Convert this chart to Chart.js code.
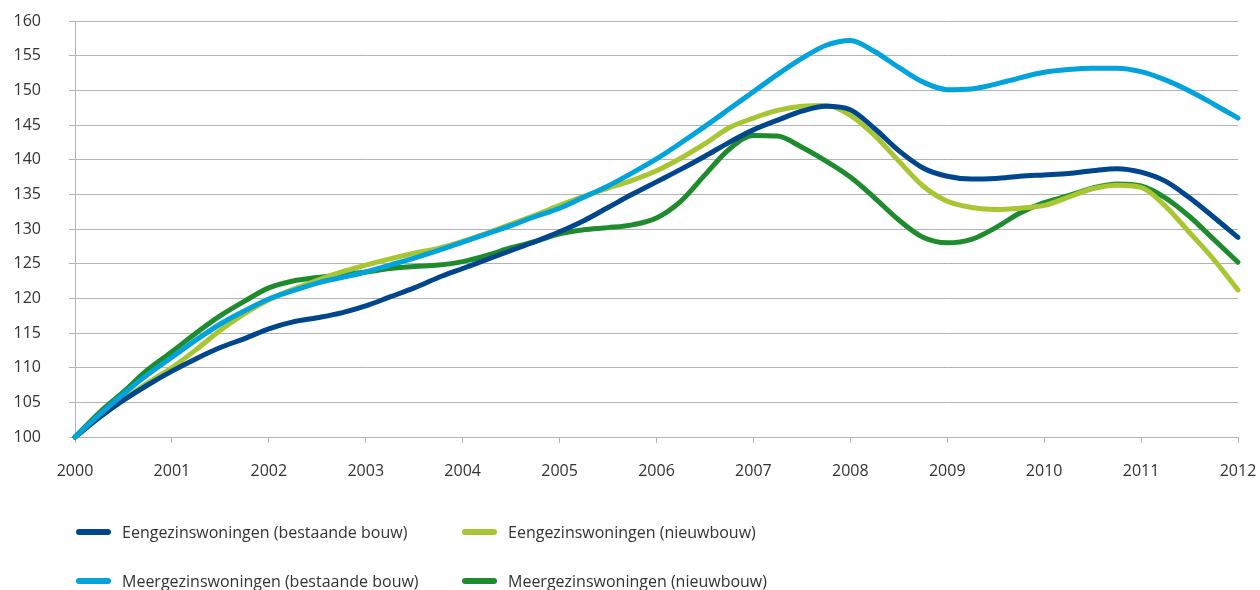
<!DOCTYPE html>
<html>
<head>
<meta charset="utf-8">
<script src="https://cdn.jsdelivr.net/npm/chart.js@4"></script>
<style>
  html, body { margin: 0; padding: 0; background: #fff; }
  body { width: 1260px; height: 590px; overflow: hidden; position: relative; font-family: "Open Sans", sans-serif; }
  #wrap { position: absolute; left: 0; top: 0; width: 1260px; height: 590px; }
  .legend { position: absolute; font-size: 16px; color: #333; white-space: nowrap; }
  .legend span.sw { position: absolute; left: 0; top: 9px; width: 35px; height: 6px; border-radius: 3px; }
  .legend span.tx { position: absolute; left: 46px; top: 0; line-height: 24px; }
</style>
</head>
<body>
<div id="wrap"><canvas id="chart" width="1260" height="590"></canvas></div>
<div id="legend"></div>
<script>
// Kwartalen (x-as)
const kwartalen = [
  2000, 2000.25, 2000.5, 2000.75, 2001, 2001.25, 2001.5, 2001.75,
  2002, 2002.25, 2002.5, 2002.75, 2003, 2003.25, 2003.5, 2003.75,
  2004, 2004.25, 2004.5, 2004.75, 2005, 2005.25, 2005.5, 2005.75,
  2006, 2006.25, 2006.5, 2006.75, 2007, 2007.25, 2007.5, 2007.75,
  2008, 2008.25, 2008.5, 2008.75, 2009, 2009.25, 2009.5, 2009.75,
  2010, 2010.25, 2010.5, 2010.75, 2011, 2011.25, 2011.5, 2011.75,
  2012
];

const eengezinsBestaand = [
  100, 102.8, 105.3, 107.5, 109.5, 111.3, 112.9, 114.2,
  115.6, 116.6, 117.2, 117.9, 118.9, 120.2, 121.5, 123,
  124.3, 125.6, 126.9, 128.2, 129.6, 131.2, 133.1, 135,
  136.8, 138.6, 140.5, 142.5, 144.3, 145.7, 147, 147.7,
  147.2, 144.5, 141.3, 138.8, 137.6, 137.2, 137.3, 137.6,
  137.8, 138, 138.4, 138.7, 138.2, 136.9, 134.5, 131.7,
  128.8
];

const eengezinsNieuw = [
  100, 102.8, 105.4, 107.8, 110, 112.6, 115.4, 117.8,
  119.8, 121.3, 122.6, 123.8, 124.8, 125.7, 126.5, 127.2,
  128.2, 129.4, 130.7, 132, 133.4, 134.7, 135.9, 137,
  138.4, 140.2, 142.3, 144.6, 146, 147.1, 147.7, 147.8,
  146.4, 143.5, 139.8, 136.2, 134, 133.1, 132.8, 133,
  133.4, 134.6, 135.8, 136.3, 136, 133.3, 129.5, 125.6,
  121.2
];

const meergezinsBestaand = [
  100, 103.2, 106.2, 109, 111.5, 114, 116.3, 118.2,
  119.9, 121.1, 122.2, 123, 123.8, 124.8, 125.8, 126.9,
  128.1, 129.3, 130.5, 131.8, 133, 134.6, 136.2, 138.1,
  140.1, 142.4, 144.8, 147.3, 149.8, 152.3, 154.6, 156.5,
  157.2, 155.6, 153.3, 151.2, 150.1, 150.2, 150.9, 151.8,
  152.6, 153, 153.2, 153.2, 152.7, 151.5, 149.9, 148,
  146
];

const meergezinsNieuw = [
  100, 103.5, 106.5, 109.7, 112.3, 115, 117.5, 119.6,
  121.5, 122.5, 123, 123.4, 123.8, 124.3, 124.6, 124.8,
  125.3, 126.2, 127.3, 128.2, 129.3, 129.9, 130.2, 130.6,
  131.6, 134, 137.8, 141.5, 143.5, 143.4, 141.8, 139.8,
  137.5, 134.5, 131.3, 128.8, 128, 128.5, 130.2, 132.3,
  133.8, 134.8, 135.9, 136.5, 136.2, 134.5, 131.8, 128.5,
  125.2
];

const reeksen = [
  { label: 'Eengezinswoningen (bestaande bouw)', data: eengezinsBestaand, kleur: '#00468c', x: 76, y: 520 },
  { label: 'Eengezinswoningen (nieuwbouw)', data: eengezinsNieuw, kleur: '#a7c631', x: 462, y: 520 },
  { label: 'Meergezinswoningen (bestaande bouw)', data: meergezinsBestaand, kleur: '#00a3dc', x: 76, y: 569 },
  { label: 'Meergezinswoningen (nieuwbouw)', data: meergezinsNieuw, kleur: '#1e8c2e', x: 462, y: 569 }
];

// Volgorde van tekenen: lichtblauw onder, donkerblauw boven
const tekenVolgorde = [2, 0, 1, 3];

const datasets = tekenVolgorde.map(i => {
  const r = reeksen[i];
  return {
    label: r.label,
    data: r.data.map((v, k) => ({ x: kwartalen[k], y: v })),
    borderColor: r.kleur,
    backgroundColor: r.kleur,
    borderWidth: 5,
    pointRadius: 0,
    cubicInterpolationMode: 'monotone',
    borderCapStyle: 'round',
    borderJoinStyle: 'round',
    clip: false
  };
});

new Chart(document.getElementById('chart'), {
  type: 'line',
  data: { datasets: datasets },
  options: {
    responsive: false,
    animation: false,
    layout: { padding: { top: 21, right: 22, left: 0, bottom: 0 } },
    plugins: { legend: { display: false }, tooltip: { enabled: false } },
    scales: {
      x: {
        type: 'linear',
        min: 2000,
        max: 2012,
        afterFit: s => { s.height = 153; s.paddingLeft = 0; s.paddingRight = 0; },
        border: { display: true, color: '#b3b3b3', width: 1 },
        grid: { drawOnChartArea: false, drawTicks: true, tickLength: 6, color: '#b3b3b3' },
        ticks: {
          stepSize: 1,
          padding: 19,
          color: '#333',
          font: { family: 'Open Sans', size: 16 },
          maxRotation: 0,
          callback: v => String(v)
        }
      },
      y: {
        min: 100,
        max: 160,
        afterFit: s => { s.width = 75; s.paddingTop = 0; s.paddingBottom = 0; },
        border: { display: true, color: '#b3b3b3', width: 1 },
        grid: { color: '#b3b3b3', tickLength: 6 },
        ticks: {
          stepSize: 5,
          padding: 28,
          color: '#333',
          font: { family: 'Open Sans', size: 16 },
          callback: v => String(v)
        }
      }
    }
  }
});

// Legenda als gewone tekst
const legend = document.getElementById('legend');
reeksen.forEach(r => {
  const item = document.createElement('div');
  item.className = 'legend';
  item.style.left = r.x + 'px';
  item.style.top = r.y + 'px';
  item.innerHTML = `<span class="sw" style="background:${r.kleur}"></span><span class="tx">${r.label}</span>`;
  legend.appendChild(item);
});
</script>
</body>
</html>
